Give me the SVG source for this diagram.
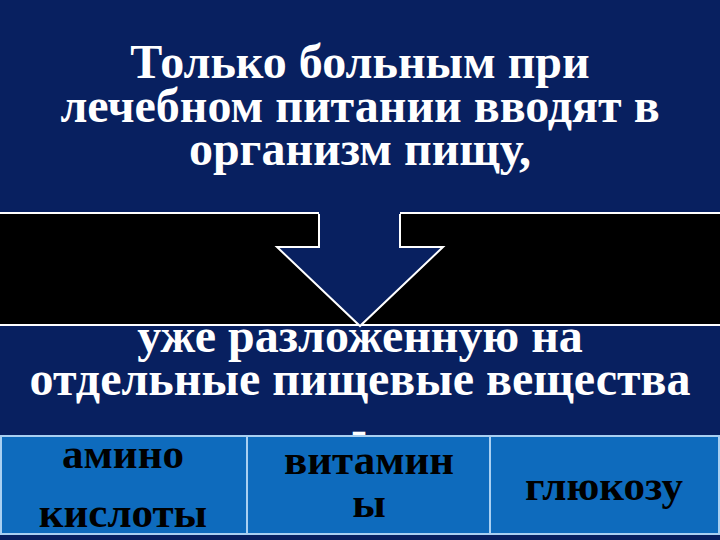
<svg xmlns="http://www.w3.org/2000/svg" width="720" height="540" viewBox="0 0 720 540">
<style>
.navy{fill:#082060}
.wt{font-family:"Liberation Serif","Times New Roman",serif;font-weight:bold;font-size:48px;fill:#ffffff;text-anchor:middle}
.bt{font-family:"Liberation Serif","Times New Roman",serif;font-weight:bold;font-size:43px;fill:#000000;text-anchor:middle}
.cell{fill:#0E6BBD;stroke:#A9D0F2;stroke-width:2}
</style>
<rect x="0" y="0" width="720" height="540" fill="#000000"/>
<g id="top-box">
<rect class="navy" x="0" y="0" width="720" height="213"/>
<line x1="0" y1="213" x2="720" y2="213" stroke="#ffffff" stroke-width="2"/>
<text class="wt" x="360" y="78">Только больным при</text>
<text class="wt" x="360" y="122">лечебном питании вводят в</text>
<text class="wt" x="360" y="165">организм пищу,</text>
</g>
<g id="bottom-box">
<rect class="navy" x="0" y="325" width="720" height="215"/>
<line x1="0" y1="325" x2="720" y2="325" stroke="#ffffff" stroke-width="2"/>
<text class="wt" x="360" y="352">уже разложенную на</text>
<text class="wt" x="360" y="395">отдельные пищевые вещества</text>
<text class="wt" x="359" y="445">-</text>
</g>
<g id="table">
<g id="cell-amino">
<rect class="cell" x="1" y="436" width="246" height="98"/>
<text class="bt" x="123" y="468">амино</text>
<text class="bt" x="123" y="527">кислоты</text>
</g>
<g id="cell-vitamins">
<rect class="cell" x="247" y="436" width="243" height="98"/>
<text class="bt" x="369" y="474">витамин</text>
<text class="bt" x="369" y="517">ы</text>
</g>
<g id="cell-glucose">
<rect class="cell" x="490" y="436" width="229" height="98"/>
<text class="bt" x="604" y="500">глюкозу</text>
</g>
</g>
<g id="connectors">
<polygon class="navy" points="319,211 400,211 400,247 443,247 360,326 277,247 319,247"/>
<polyline points="319,214 319,247 277,247 360,326 443,247 400,247 400,214" fill="none" stroke="#ffffff" stroke-width="2"/>
</g>
</svg>
